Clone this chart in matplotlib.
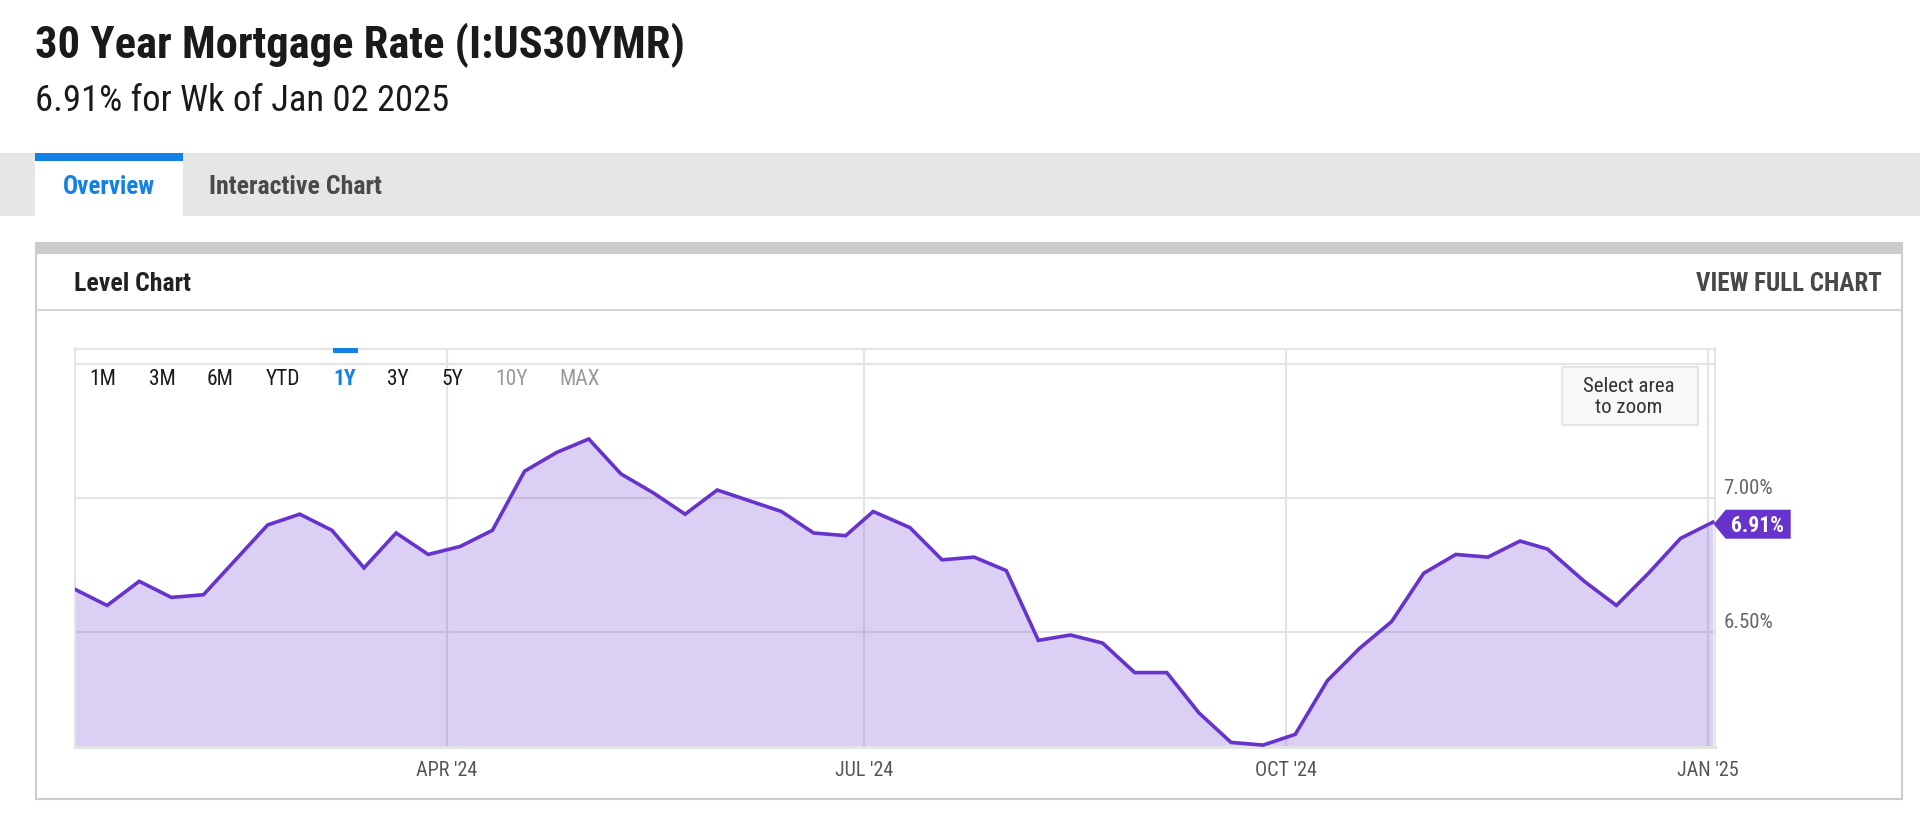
import matplotlib
matplotlib.use("Agg")
import matplotlib.pyplot as plt
from matplotlib import font_manager
from matplotlib.patches import Rectangle, Polygon
from matplotlib.transforms import offset_copy, blended_transform_factory
import pandas as pd

# weekly 30 year fixed rate, Jan 11 2024 .. Jan 02 2025
weeks = ["2024-01-11", "2024-01-18", "2024-01-25", "2024-02-01", "2024-02-08",
         "2024-02-15", "2024-02-22", "2024-02-29", "2024-03-07", "2024-03-14",
         "2024-03-21", "2024-03-28", "2024-04-04", "2024-04-11", "2024-04-18",
         "2024-04-25", "2024-05-02", "2024-05-09", "2024-05-16", "2024-05-23",
         "2024-05-30", "2024-06-06", "2024-06-13", "2024-06-20", "2024-06-27",
         "2024-07-03", "2024-07-11", "2024-07-18", "2024-07-25", "2024-08-01",
         "2024-08-08", "2024-08-15", "2024-08-22", "2024-08-29", "2024-09-05",
         "2024-09-12", "2024-09-19", "2024-09-26", "2024-10-03", "2024-10-10",
         "2024-10-17", "2024-10-24", "2024-10-31", "2024-11-07", "2024-11-14",
         "2024-11-21", "2024-11-27", "2024-12-05", "2024-12-12", "2024-12-19",
         "2024-12-26", "2025-01-02"]
rates = [6.66, 6.60, 6.69, 6.63, 6.64, 6.77, 6.90, 6.94, 6.88, 6.74,
         6.87, 6.79, 6.82, 6.88, 7.10, 7.17, 7.22, 7.09, 7.02, 6.94,
         7.03, 6.99, 6.95, 6.87, 6.86, 6.95, 6.89, 6.77, 6.78, 6.73,
         6.47, 6.49, 6.46, 6.35, 6.35, 6.20, 6.09, 6.08, 6.12, 6.32,
         6.44, 6.54, 6.72, 6.79, 6.78, 6.84, 6.81, 6.69, 6.60, 6.72,
         6.85, 6.91]

xtick_dates = ["2024-04-01", "2024-07-01", "2024-10-01", "2025-01-01"]
xtick_labels = ["APR '24", "JUL '24", "OCT '24", "JAN '25"]
ygrid = [6.5, 7.0, 7.5]
ylabeled = [6.5, 7.0]
ranges = ["1M", "3M", "6M", "YTD", "1Y", "3Y", "5Y", "10Y", "MAX"]

names = {f.name for f in font_manager.fontManager.ttflist}
FONT = "Roboto Condensed" if "Roboto Condensed" in names else "Roboto"
plt.rcParams["font.family"] = [FONT, "DejaVu Sans"]

PURPLE = "#6633cc"
BLUE = "#1380e6"

dates = pd.to_datetime(weeks)

W, H = 1920, 824
fig = plt.figure(figsize=(W / 100, H / 100), dpi=100)
fig.patch.set_facecolor("white")

# main plot area in pixels
L, R, T, B = 75, 1715, 348.5, 746.7
ax = fig.add_axes([L / W, (H - B) / H, (R - L) / W, (B - T) / H])
ax.set_zorder(1)
ax.fill_between(dates, rates, 5.0, color=PURPLE, alpha=0.23, lw=0, zorder=2)
ax.plot(dates, rates, color=PURPLE, lw=2.6, zorder=3, solid_joinstyle="miter")
ax.set_ylim(6.074, 7.557)
ax.set_xlim(dates[0], dates[-1] + pd.Timedelta(hours=12))
ax.set_yticks(ygrid)
ax.set_xticks(pd.to_datetime(xtick_dates))
ax.set_xticklabels(xtick_labels)
ax.tick_params(axis="y", length=0, labelleft=False)
ax.tick_params(axis="x", length=0, pad=10.5, labelsize=14.5, labelcolor="#555555")
ax.grid(True, color="#e4e4e4", lw=1.5, zorder=0)
ax.set_axisbelow(True)
for s in ax.spines.values():
    s.set_color("#e4e4e4")
    s.set_linewidth(1.5)
ax.spines["bottom"].set_linewidth(2.2)

ytrans = offset_copy(blended_transform_factory(ax.transAxes, ax.transData),
                     fig=fig, x=8.5, y=4, units="dots")
for v in ylabeled:
    ax.text(1.0, v, f"{v:.2f}%", transform=ytrans, fontsize=15,
            color="#666666", ha="left", va="baseline", clip_on=False)

# page chrome, pixel coordinates with y pointing down
c = fig.add_axes([0, 0, 1, 1])
c.set_xlim(0, W)
c.set_ylim(H, 0)
c.axis("off")
c.patch.set_alpha(0)
c.set_zorder(3)

c.text(35, 58.5, "30 Year Mortgage Rate (I:US30YMR)", fontsize=32,
       fontweight="bold", color="#1a1a1a", va="baseline")
c.text(35, 111, "6.91% for Wk of Jan 02 2025", fontsize=26.4,
       color="#1a1a1a", va="baseline")

c.add_patch(Rectangle((0, 153), W, 63, fc="#e6e6e6", ec="none"))
c.add_patch(Rectangle((35, 153), 147.5, 63, fc="white", ec="none"))
c.add_patch(Rectangle((35, 153), 147.5, 7.7, fc=BLUE, ec="none"))
c.text(108.8, 194, "Overview", fontsize=18, fontweight="bold", color=BLUE,
       ha="center", va="baseline")
c.text(209, 194, "Interactive Chart", fontsize=18.6, fontweight="bold",
       color="#4a4a4a", va="baseline")

# level chart box
c.add_patch(Rectangle((35.7, 243), 1866, 556, fc="none", ec="#cccccc", lw=1.5))
c.add_patch(Rectangle((35.7, 243), 1866, 10.5, fc="#cccccc", ec="none"))
c.plot([35.7, 1901.7], [310, 310], color="#d4d4d4", lw=1.5)
c.text(74, 291, "Level Chart", fontsize=18.5, fontweight="bold",
       color="#222222", va="baseline")
c.text(1882, 291, "VIEW FULL CHART", fontsize=18, fontweight="bold",
       color="#484848", ha="right", va="baseline")

# range selector
bx = [103, 162, 220.5, 283, 345, 397.5, 452, 511.5, 580]
for lab, x in zip(ranges, bx):
    col = "#1a1a1a"
    wt = "normal"
    if lab == "1Y":
        col, wt = BLUE, "bold"
    elif lab in ("10Y", "MAX"):
        col = "#9a9a9a"
    c.text(x, 385.3, lab, fontsize=15.5, color=col, fontweight=wt,
           ha="center", va="baseline")
c.add_patch(Rectangle((332.7, 348), 25, 5.3, fc=BLUE, ec="none"))

# zoom hint box
c.add_patch(Rectangle((1562.3, 366.7), 135.4, 58.3, fc="#f7f8f8",
                      ec="#e2e2e2", lw=1.2))
c.text(1628.7, 392.3, "Select area", fontsize=15, color="#333333",
       ha="center", va="baseline")
c.text(1628.7, 412.7, "to zoom", fontsize=15, color="#333333",
       ha="center", va="baseline")

# last value flag, anchored on the last data point
xd, yd = ax.transData.transform((matplotlib.dates.date2num(dates[-1]), rates[-1]))
xp, yp = xd, H - yd
tip = (xp + 1, yp + 2)
c.add_patch(Polygon([tip, (xp + 13, yp + 2 - 14.5), (xp + 78, yp + 2 - 14.5),
                     (xp + 78, yp + 2 + 14.5), (xp + 13, yp + 2 + 14.5)],
                    closed=True, fc=PURPLE, ec="none"))
c.text(xp + 45, yp + 10, f"{rates[-1]:.2f}%", fontsize=15.5,
       fontweight="bold", color="white", ha="center", va="baseline")

fig.savefig("out.png", dpi=100, facecolor="white")
